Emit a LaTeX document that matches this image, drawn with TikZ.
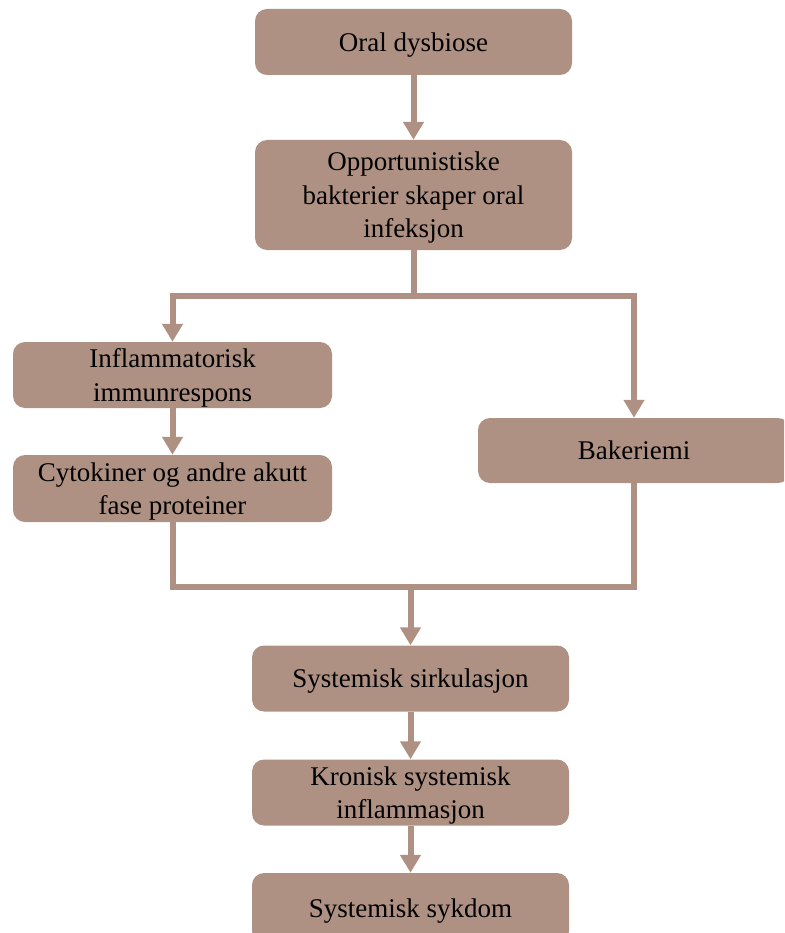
\documentclass[tikz,border=0pt]{standalone}
\usepackage{fontspec}
\setmainfont{Liberation Serif}
\usetikzlibrary{arrows.meta}

\begin{document}
\begin{tikzpicture}[x=1pt, y=-1pt,
    box/.style={fill=boxColour, rounded corners=12pt, inner sep=0pt,
        minimum width=317pt, minimum height=66pt, align=center, text depth=0pt,
        font=\fontsize{27}{33.5}\selectfont},
    flow/.style={draw=boxColour, line width=6pt, -{Triangle[width=20pt,length=18pt]}},
    link/.style={draw=boxColour, line width=6pt}]

    \definecolor{boxColour}{HTML}{AF9184}

    \useasboundingbox (0,0) rectangle (784,933);
    \clip (0,0) rectangle (784,933);

    % Boxes
    \node[box] (dysbiose) at (413.5,42) {Oral dysbiose};
    \node[box, minimum height=110pt] (infeksjon) at (413.5,195) {Opportunistiske\\bakterier skaper oral\\infeksjon};
    \node[box, minimum width=319pt] (immunrespons) at (172.5,375) {Inflammatorisk\\immunrespons};
    \node[box, minimum width=319pt, minimum height=67pt] (cytokiner) at (172.5,488.5) {Cytokiner og andre akutt\\fase proteiner};
    \node[box, minimum width=312pt, minimum height=65pt] (bakteriemi) at (634,450.5) {Bakeriemi};
    \node[box] (sirkulasjon) at (410.5,678.5) {Systemisk sirkulasjon};
    \node[box] (kronisk) at (410.5,792.5) {Kronisk systemisk\\inflammasjon};
    \node[box, minimum height=70pt] (sykdom) at (410.5,908) {Systemisk sykdom};

    % Split and merge points
    \coordinate (split) at (413.5,296);
    \coordinate (merge) at (410.5,587);

    % Connectors
    \draw[flow] (dysbiose) -- (infeksjon);
    \draw[link] (infeksjon) -- (split);
    \draw[flow] (split) -| (immunrespons);
    \draw[flow] (split) -| (bakteriemi);
    \draw[flow] (immunrespons) -- (cytokiner);
    \draw[link] (cytokiner.south) |- (merge) -| (bakteriemi.south);
    \draw[flow] (merge) -- (sirkulasjon);
    \draw[flow] (sirkulasjon) -- (kronisk);
    \draw[flow] (kronisk) -- (sykdom);

\end{tikzpicture}
\end{document}
